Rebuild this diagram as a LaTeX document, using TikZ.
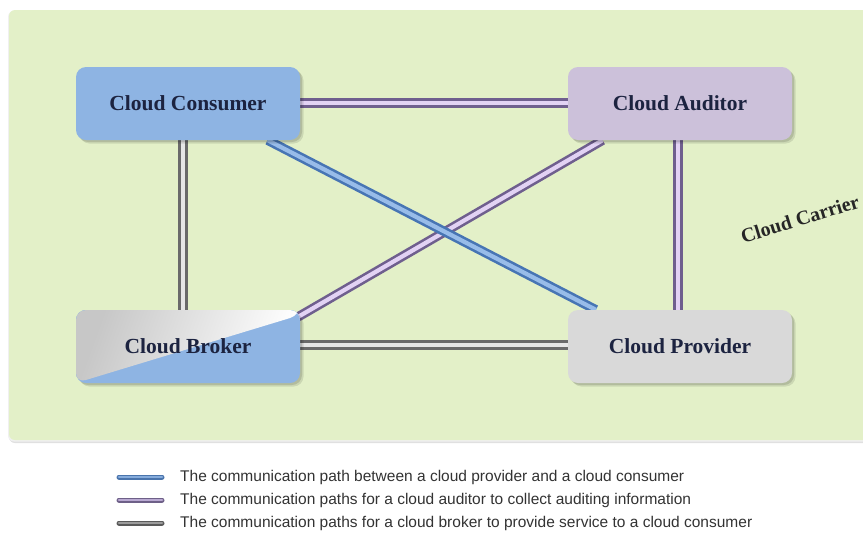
\documentclass[tikz,border=0pt]{standalone}
\usepackage{fontspec}
\setmainfont{Liberation Serif}
\newfontfamily\legendfont{Liberation Sans}
\usetikzlibrary{calc}

\definecolor{carrierbg}{HTML}{E3F0C8}
\definecolor{consblue}{HTML}{8EB4E3}
\definecolor{audlav}{HTML}{CCC1DA}
\definecolor{provgray}{HTML}{D9D9D9}
\definecolor{labelink}{HTML}{1C2340}
\definecolor{purpleedge}{HTML}{6F5F8E}
\definecolor{purplecore}{HTML}{E2D2F4}
\definecolor{grayedge}{HTML}{6A6A6A}
\definecolor{graycore}{HTML}{E6E6E6}
\definecolor{blueedge}{HTML}{4775B4}
\definecolor{bluecore}{HTML}{98BCE9}
\definecolor{legendink}{HTML}{333333}
\definecolor{legblueedge}{HTML}{4A74AC}
\definecolor{legbluecore}{HTML}{86ACDC}
\definecolor{legpurpleedge}{HTML}{6E6088}
\definecolor{legpurplecore}{HTML}{B9A9D2}
\definecolor{leggrayedge}{HTML}{5A5A5A}
\definecolor{leggraycore}{HTML}{9C9C9C}

\pgfdeclarelayer{bg}
\pgfdeclarelayer{mid}
\pgfsetlayers{bg,mid,main}

\tikzset{
  softshadow/.style={
    preaction={fill=black, opacity=0.10, transform canvas={shift={(3.5pt,-3.5pt)}}},
    preaction={fill=black, opacity=0.12, transform canvas={shift={(2pt,-2pt)}}}},
  actor/.style={rounded corners=10pt, minimum width=224pt, minimum height=73pt,
    inner sep=0pt, font=\fontsize{21.5}{24}\selectfont\bfseries, text=labelink, softshadow},
  tube/.style={line width=2.6pt, draw=#1edge, double=#1core, double distance=4.2pt},
  legline/.style={line width=1.2pt, draw=leg#1edge, double=leg#1core, double distance=2.6pt, line cap=round},
  legtext/.style={anchor=west, inner sep=0pt, text=legendink,
    font=\legendfont\fontsize{15.5}{17}\selectfont},
}

\begin{document}
\begin{tikzpicture}[x=1pt, y=-1pt]
  \useasboundingbox (0,0) rectangle (863,539);

  % carrier area
  \begin{pgfonlayer}{bg}
    \fill[white] (0,0) rectangle (863,539);
    \begin{scope}
      \clip (0,0) rectangle (863,539);
      \fill[black!12, rounded corners=6pt] (9,12) rectangle (890,443);
      \fill[black!6, rounded corners=6pt] (8,11) rectangle (890,441.5);
      \fill[carrierbg, rounded corners=6pt] (9,10) rectangle (890,440);
    \end{scope}
  \end{pgfonlayer}

  % actors
  \node[actor, fill=consblue] (cons) at (188,103.5) {Cloud Consumer};
  \node[actor, fill=audlav]   (aud)  at (680,103.5) {Cloud Auditor};
  \node[actor, fill=provgray] (prov) at (680,346.5) {Cloud Provider};
  \node[actor, fill=consblue,
    path picture={
      \fill[left color=black!22, right color=white, shading angle=70]
        (path picture bounding box.south west)
        -- (path picture bounding box.north west)
        -- (path picture bounding box.north east)
        -- ($(path picture bounding box.north east)+(0,5)$) -- cycle;
    }] (brok) at (188,346.5) {Cloud Broker};

  \node[rotate=17, font=\fontsize{20}{22}\selectfont\bfseries, text=black!85]
    (carrier) at (800,219) {Cloud Carrier};

  % communication paths
  \begin{pgfonlayer}{mid}
    \coordinate (cA) at ($(cons.south)!0.71!(cons.south east)$);
    \coordinate (pA) at ($(prov.north)!0.75!(prov.north west)$);
    \coordinate (aA) at ($(aud.south)!0.69!(aud.south west)$);
    \coordinate (bA) at ($(brok.north east)+(-2,7)$);
    \draw[tube=purple] (cons.east |- 0,103) -- (aud.west |- 0,103);
    \draw[tube=gray]   (cons.south -| 183,0) -- (brok.north -| 183,0);
    \draw[tube=purple] (aud.south -| 678,0) -- (prov.north -| 678,0);
    \draw[tube=gray]   (brok.east |- 0,345) -- (prov.west |- 0,345);
    \draw[tube=purple] (aA) -- (bA);
    \draw[tube=blue]   (cA) -- (pA);
  \end{pgfonlayer}

  % legend
  \coordinate (l1a) at (119,477); \coordinate (l1b) at (162,477);
  \coordinate (l2a) at (119,500); \coordinate (l2b) at (162,500);
  \coordinate (l3a) at (119,523); \coordinate (l3b) at (162,523);
  \draw[legline=blue]   (l1a) -- (l1b);
  \draw[legline=purple] (l2a) -- (l2b);
  \draw[legline=gray]   (l3a) -- (l3b);
  \node[legtext] (t1) at (180,477) {The communication path between a cloud provider and a cloud consumer};
  \node[legtext] (t2) at (180,500) {The communication paths for a cloud auditor to collect auditing information};
  \node[legtext] (t3) at (180,523) {The communication paths for a cloud broker to provide service to a cloud consumer};
\end{tikzpicture}
\end{document}
